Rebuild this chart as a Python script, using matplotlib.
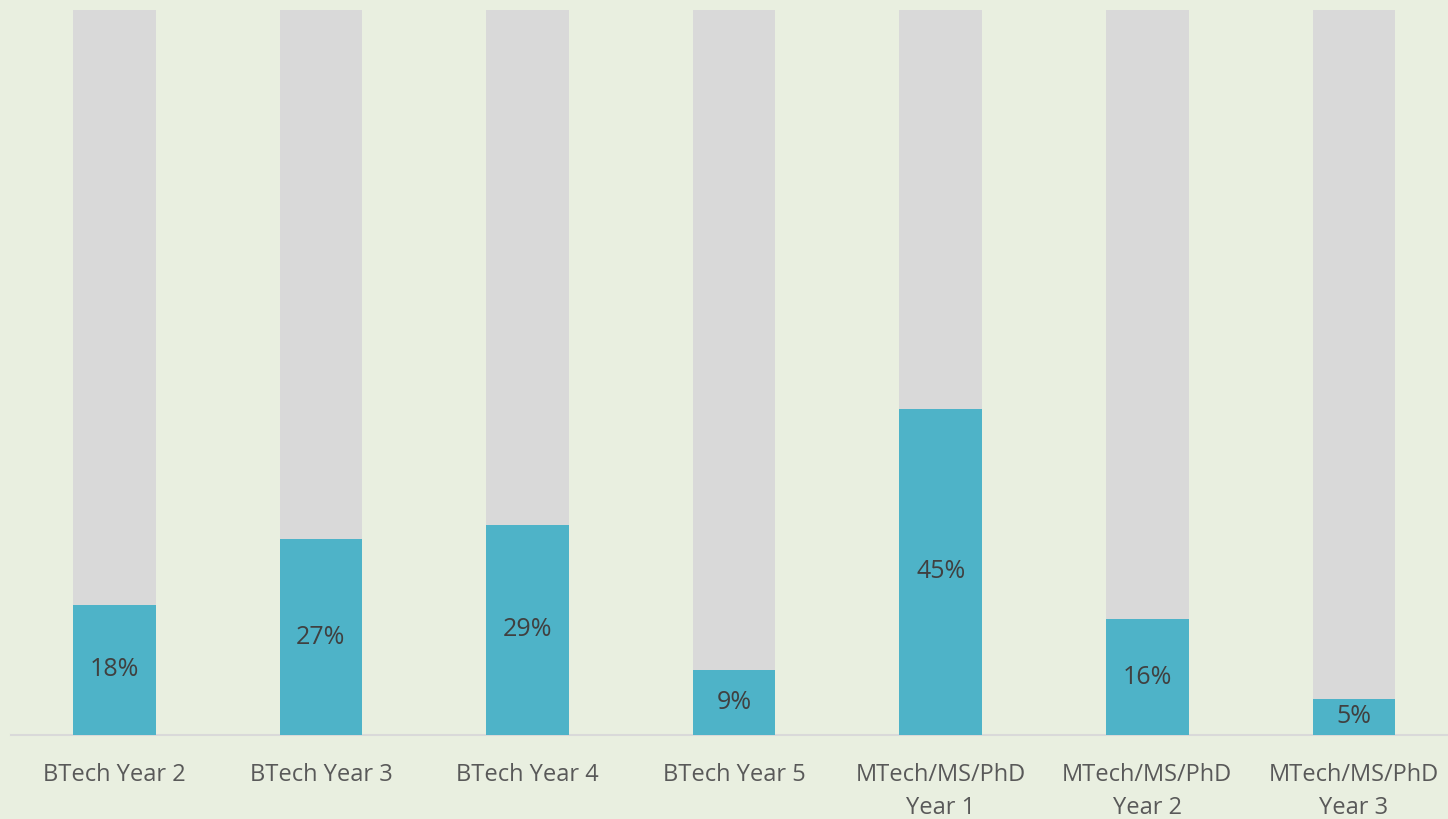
import matplotlib
matplotlib.use("Agg")
import matplotlib.pyplot as plt

categories = ["BTech Year 2", "BTech Year 3", "BTech Year 4", "BTech Year 5",
              "MTech/MS/PhD\nYear 1", "MTech/MS/PhD\nYear 2", "MTech/MS/PhD\nYear 3"]
share = [0.18, 0.27, 0.29, 0.09, 0.45, 0.16, 0.05]
total = [1.0] * len(categories)

plt.rcParams['font.family'] = ['Open Sans', 'DejaVu Sans']

bg = "#E9EFE0"
fig = plt.figure(figsize=(14.48, 8.19), dpi=100, facecolor=bg)
ax = fig.add_axes([11 / 1448, 84 / 819, 1437 / 1448, 725 / 819], facecolor=bg)

x = list(range(len(categories)))
ax.bar(x, total, width=0.40, color="#D9D9D9", zorder=2)
ax.bar(x, share, width=0.40, color="#4EB3C8", zorder=3)

# percentage labels in the middle of each teal bar
for xi, v in zip(x, share):
    ax.text(xi, v / 2, "%d%%" % round(v * 100), ha="center", va="center",
            fontsize=18, color="#404040", zorder=4)

ax.set_xlim(-0.5, -0.5 + 1437 / 206.6)
ax.set_ylim(0, 1.0)
ax.set_xticks(x)
ax.set_xticklabels(categories, fontsize=17, color="#595959", linespacing=1.5)
ax.tick_params(axis="x", length=0, pad=20)
ax.set_yticks([])
for s in ["top", "right", "left"]:
    ax.spines[s].set_visible(False)
ax.spines["bottom"].set_color("#D9D9D9")
ax.spines["bottom"].set_linewidth(1.5)

fig.savefig("out.png", dpi=100, facecolor=bg)
